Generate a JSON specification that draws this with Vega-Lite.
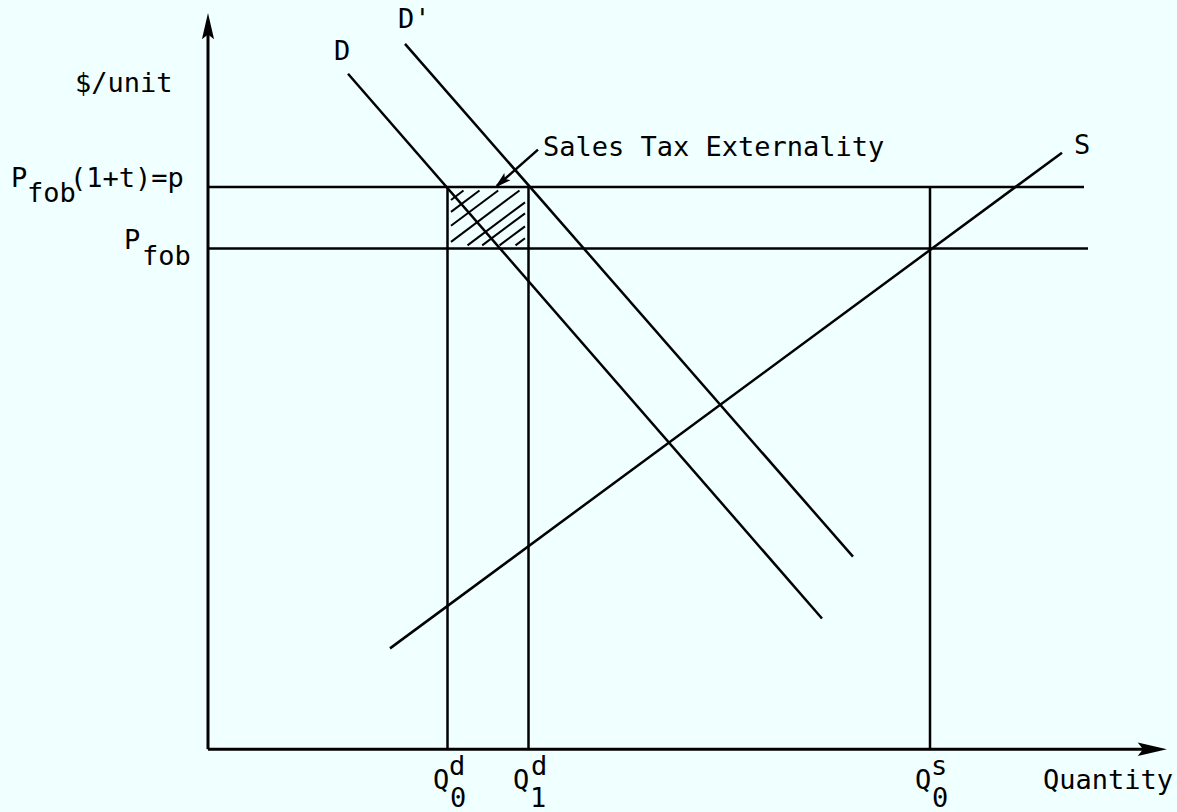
{
  "$schema": "https://vega.github.io/schema/vega-lite/v6.json",
  "width": 1177,
  "height": 812,
  "autosize": {"type": "fit", "contains": "padding"},
  "padding": 0,
  "background": "#f0ffff",
  "config": {"view": {"stroke": null}},
  "datasets": {
    "axes": [
      {"x": 0, "y": 0, "x2": 0, "y2": 97.0},
      {"x": 0, "y": 0, "x2": 95.0, "y2": 0}
    ],
    "lines": [
      {"name": "p", "x": 0, "y": 75.13, "x2": 87.6, "y2": 75.13},
      {"name": "pfob", "x": 0, "y": 66.93, "x2": 88.0, "y2": 66.93},
      {"name": "Q0d", "x": 23.95, "y": 0, "x2": 23.95, "y2": 75.13},
      {"name": "Q1d", "x": 32.05, "y": 0, "x2": 32.05, "y2": 75.13},
      {"name": "Q0s", "x": 72.2, "y": 0, "x2": 72.2, "y2": 75.13},
      {"name": "D", "x": 14.0, "y": 90.27, "x2": 61.4, "y2": 17.47},
      {"name": "D'", "x": 19.7, "y": 94.27, "x2": 64.5, "y2": 25.73},
      {"name": "S", "x": 18.2, "y": 13.47, "x2": 85.4, "y2": 79.73},
      {"name": "pointer", "x": 33.0, "y": 80.13, "x2": 28.9, "y2": 75.3}
    ],
    "hatch": [
      {"x": 24.3, "y": 73.41, "x2": 25.55, "y2": 74.67},
      {"x": 24.3, "y": 71.81, "x2": 27.15, "y2": 74.67},
      {"x": 24.3, "y": 69.95, "x2": 29.02, "y2": 74.67},
      {"x": 24.3, "y": 67.81, "x2": 31.15, "y2": 74.67},
      {"x": 25.95, "y": 67.33, "x2": 31.7, "y2": 73.08},
      {"x": 27.42, "y": 67.33, "x2": 31.7, "y2": 71.61},
      {"x": 29.15, "y": 67.33, "x2": 31.7, "y2": 69.88},
      {"x": 30.75, "y": 67.33, "x2": 31.7, "y2": 68.28}
    ],
    "labels": [
      {"label": "$/unit", "x": -13.3, "y": 87.87},
      {"label": "P", "x": -19.7, "y": 75.2},
      {"label": "fob", "x": -18.1, "y": 73.07},
      {"label": "(1+t)=p", "x": -13.8, "y": 75.2},
      {"label": "P", "x": -8.4, "y": 66.8},
      {"label": "fob", "x": -6.6, "y": 64.67},
      {"label": "D", "x": 12.6, "y": 92.13},
      {"label": "D'", "x": 19.0, "y": 96.4},
      {"label": "Sales Tax Externality", "x": 33.5, "y": 79.33},
      {"label": "S", "x": 86.6, "y": 79.6},
      {"label": "Q", "x": 22.5, "y": -5.33},
      {"label": "d", "x": 24.1, "y": -3.47},
      {"label": "0", "x": 24.2, "y": -7.73},
      {"label": "Q", "x": 30.5, "y": -5.33},
      {"label": "d", "x": 32.3, "y": -3.47},
      {"label": "1", "x": 32.2, "y": -7.73},
      {"label": "Q", "x": 70.7, "y": -5.33},
      {"label": "s", "x": 72.3, "y": -3.47},
      {"label": "0", "x": 72.4, "y": -7.73},
      {"label": "Quantity", "x": 83.5, "y": -5.33}
    ]
  },
  "encoding": {
    "x": {"field": "x", "type": "quantitative", "scale": {"domain": [-20.8, 96.9], "nice": false, "zero": false}, "axis": null},
    "y": {"field": "y", "type": "quantitative", "scale": {"domain": [-8.1333, 100.1333], "nice": false, "zero": false}, "axis": null}
  },
  "layer": [
    {
      "data": {"name": "axes"},
      "mark": {"type": "rule", "stroke": "black", "strokeWidth": 3},
      "encoding": {"x2": {"field": "x2"}, "y2": {"field": "y2"}}
    },
    {
      "data": {"name": "lines"},
      "mark": {"type": "rule", "stroke": "black", "strokeWidth": 2.5},
      "encoding": {"x2": {"field": "x2"}, "y2": {"field": "y2"}}
    },
    {
      "data": {"name": "hatch"},
      "mark": {"type": "rule", "stroke": "black", "strokeWidth": 2},
      "encoding": {"x2": {"field": "x2"}, "y2": {"field": "y2"}}
    },
    {
      "data": {"values": [{"x": 0, "y": 96.6}]},
      "mark": {"type": "point", "shape": "M0,-1L0.45,0.95L0,0.6L-0.45,0.95Z", "size": 729, "filled": true, "color": "black", "opacity": 1, "angle": 0}
    },
    {
      "data": {"values": [{"x": 94.4, "y": 0}]},
      "mark": {"type": "point", "shape": "M0,-1L0.45,0.95L0,0.6L-0.45,0.95Z", "size": 900, "filled": true, "color": "black", "opacity": 1, "angle": 90}
    },
    {
      "data": {"values": [{"x": 29.34, "y": 75.81}]},
      "mark": {"type": "point", "shape": "M0,-1L0.55,0.95L0,0.55L-0.55,0.95Z", "size": 289, "filled": true, "color": "black", "opacity": 1, "angle": 228.5}
    },
    {
      "data": {"name": "labels"},
      "mark": {"type": "text", "font": "DejaVu Sans Mono", "fontSize": 27, "align": "left", "baseline": "alphabetic", "color": "black"},
      "encoding": {"text": {"field": "label"}}
    }
  ]
}
